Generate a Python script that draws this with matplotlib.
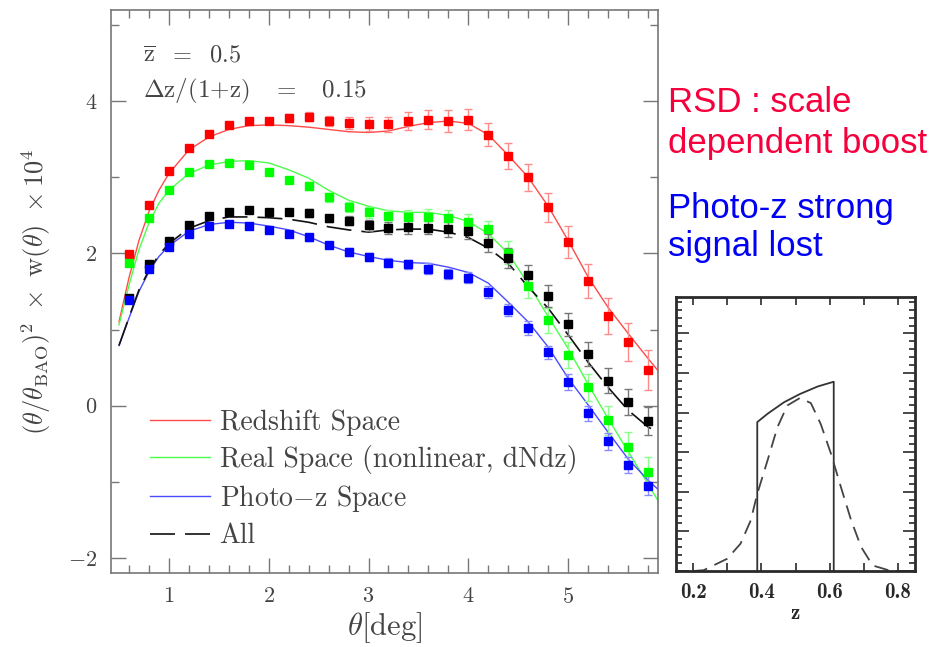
import matplotlib
matplotlib.use("Agg")
import matplotlib.pyplot as plt
from matplotlib.ticker import MultipleLocator, FixedLocator, FormatStrFormatter

plt.rcParams.update({
    "font.family": "serif",
    "font.serif": ["cmr10"],
    "mathtext.fontset": "cm",
    "axes.formatter.use_mathtext": True,
    "axes.unicode_minus": True,
})

# binned measurements, theta in degrees
theta = [0.6, 0.8, 1.0, 1.2, 1.4, 1.6, 1.8, 2.0, 2.2, 2.4, 2.6, 2.8, 3.0, 3.2,
         3.4, 3.6, 3.8, 4.0, 4.2, 4.4, 4.6, 4.8, 5.0, 5.2, 5.4, 5.6, 5.8]
red_pts = [1.99, 2.64, 3.08, 3.39, 3.57, 3.69, 3.74, 3.74, 3.78, 3.80, 3.74, 3.72, 3.70, 3.70,
           3.74, 3.76, 3.74, 3.76, 3.56, 3.28, 3.00, 2.61, 2.15, 1.64, 1.18, 0.84, 0.47]
red_err = [0.03, 0.03, 0.03, 0.03, 0.03, 0.04, 0.04, 0.04, 0.05, 0.06, 0.07, 0.08, 0.09, 0.10,
           0.12, 0.13, 0.14, 0.14, 0.15, 0.17, 0.18, 0.19, 0.21, 0.22, 0.24, 0.25, 0.26]
green_pts = [1.88, 2.46, 2.83, 3.07, 3.17, 3.19, 3.16, 3.07, 2.97, 2.89, 2.74, 2.61, 2.54, 2.49,
             2.48, 2.48, 2.47, 2.42, 2.32, 2.01, 1.57, 1.12, 0.67, 0.24, -0.19, -0.54, -0.87]
green_err = [0.03, 0.03, 0.03, 0.03, 0.03, 0.03, 0.04, 0.04, 0.04, 0.05, 0.06, 0.07, 0.07, 0.08,
             0.09, 0.10, 0.10, 0.10, 0.11, 0.15, 0.15, 0.16, 0.17, 0.18, 0.19, 0.19, 0.20]
black_pts = [1.41, 1.86, 2.17, 2.37, 2.49, 2.55, 2.57, 2.55, 2.54, 2.53, 2.46, 2.43, 2.37, 2.34,
             2.35, 2.34, 2.32, 2.30, 2.14, 1.94, 1.72, 1.44, 1.07, 0.68, 0.33, 0.05, -0.20]
black_err = [0.03, 0.03, 0.03, 0.03, 0.03, 0.03, 0.04, 0.04, 0.04, 0.05, 0.05, 0.06, 0.07, 0.08,
             0.09, 0.09, 0.10, 0.11, 0.12, 0.13, 0.13, 0.14, 0.15, 0.16, 0.17, 0.17, 0.18]
blue_pts = [1.39, 1.80, 2.09, 2.26, 2.36, 2.39, 2.36, 2.31, 2.25, 2.21, 2.11, 2.02, 1.95, 1.88,
            1.86, 1.80, 1.73, 1.68, 1.49, 1.26, 1.02, 0.70, 0.31, -0.10, -0.47, -0.78, -1.05]
blue_err = [0.02, 0.02, 0.02, 0.02, 0.03, 0.03, 0.03, 0.03, 0.03, 0.04, 0.04, 0.05, 0.05, 0.06,
            0.06, 0.07, 0.07, 0.07, 0.08, 0.08, 0.09, 0.09, 0.10, 0.10, 0.11, 0.11, 0.12]

# model curves
curve_theta = [0.5, 0.6, 0.7, 0.8, 0.9, 1.0, 1.2, 1.4, 1.6, 1.8, 2.0, 2.2, 2.4, 2.6, 2.8, 3.0,
               3.2, 3.4, 3.6, 3.8, 4.0, 4.2, 4.4, 4.6, 4.8, 5.0, 5.2, 5.4, 5.6, 5.8, 5.9]
red_model = [1.10, 1.68, 2.17, 2.55, 2.83, 3.05, 3.36, 3.53, 3.63, 3.68, 3.69, 3.68, 3.66, 3.63,
             3.60, 3.59, 3.61, 3.67, 3.72, 3.74, 3.71, 3.56, 3.29, 3.00, 2.62, 2.17, 1.69, 1.29,
             0.95, 0.62, 0.46]
green_model = [1.06, 1.58, 2.05, 2.40, 2.66, 2.83, 3.05, 3.16, 3.21, 3.22, 3.19, 3.10, 2.99, 2.83,
               2.70, 2.62, 2.56, 2.54, 2.54, 2.50, 2.42, 2.26, 2.00, 1.60, 1.17, 0.75, 0.28, -0.17,
               -0.60, -1.03, -1.25]
blue_model = [0.79, 1.15, 1.50, 1.76, 1.96, 2.10, 2.29, 2.38, 2.41, 2.40, 2.36, 2.31, 2.22, 2.11,
              2.02, 1.96, 1.91, 1.88, 1.87, 1.82, 1.75, 1.61, 1.36, 1.10, 0.77, 0.36, 0.01, -0.35,
              -0.70, -0.98, -1.10]
all_model = [0.79, 1.16, 1.52, 1.78, 1.98, 2.13, 2.33, 2.43, 2.48, 2.48, 2.47, 2.45, 2.41, 2.35,
             2.31, 2.28, 2.31, 2.32, 2.32, 2.28, 2.21, 2.07, 1.87, 1.56, 1.28, 0.93, 0.57, 0.24,
             -0.06, -0.28, -0.35]

# redshift distribution (inset)
tophat_z = [0.388, 0.388, 0.418, 0.466, 0.513, 0.565, 0.612, 0.612]
tophat_n = [0.0, 3.76, 3.97, 4.26, 4.47, 4.66, 4.78, 0.0]
photoz_z = [0.20, 0.231, 0.300, 0.339, 0.369, 0.388, 0.418, 0.447, 0.476, 0.513, 0.545, 0.574,
            0.604, 0.633, 0.663, 0.692, 0.726, 0.780, 0.82]
photoz_n = [0.0, 0.02, 0.31, 0.69, 1.28, 1.95, 2.79, 3.63, 4.18, 4.37, 4.24, 3.71,
            2.96, 2.12, 1.28, 0.61, 0.14, 0.0, 0.0]

TXT = "#444444"
SPINE = "#777777"
INK = "#2a2a2a"

fig = plt.figure(figsize=(9.46, 6.47), dpi=100)
ax = fig.add_axes([111 / 946, 1 - 573 / 647, 547 / 946, 563 / 647])

ax.plot(curve_theta, red_model, color="#ff4a4a", lw=1.0, label="Redshift Space", zorder=2)
ax.plot(curve_theta, green_model, color="#4aff4a", lw=1.0,
        label="Real Space (nonlinear, dNdz)", zorder=2)
ax.plot(curve_theta, blue_model, color="#4a4aff", lw=1.0, label=r"Photo$-$z Space", zorder=2)
ax.plot(curve_theta, all_model, color="#111111", lw=1.2, dashes=(15, 6), label="All", zorder=2)

for pts, err, col, ecol in (
    (red_pts, red_err, "#ff0000", "#ff8a8a"),
    (green_pts, green_err, "#00ff00", "#8aff8a"),
    (black_pts, black_err, "#000000", "#777777"),
    (blue_pts, blue_err, "#0000ff", "#8a8aff"),
):
    ax.errorbar(theta, pts, yerr=err, fmt="s", ms=5.5, mfc=col, mec=col, ecolor=ecol,
                elinewidth=1.0, capsize=3.2, capthick=1.0, zorder=3)

ax.set_xlim(0.42, 5.9)
ax.set_ylim(-2.2, 5.2)
ax.xaxis.set_major_locator(MultipleLocator(1))
ax.xaxis.set_minor_locator(MultipleLocator(0.2))
ax.yaxis.set_major_locator(MultipleLocator(2))
ax.yaxis.set_minor_locator(MultipleLocator(1))
ax.tick_params(which="both", direction="in", top=True, right=True, color=SPINE,
               labelcolor=TXT, labelsize=16, width=1.0)
ax.tick_params(which="major", length=11, pad=10)
ax.tick_params(which="minor", length=6)
for s in ax.spines.values():
    s.set_color(SPINE)
    s.set_linewidth(1.2)

ax.set_xlabel(r"$\theta[{\rm deg}]$", fontsize=22, color=TXT, labelpad=2)
ax.set_ylabel(r"$(\theta/\theta_{\rm BAO})^2\ \times\ {\rm w}(\theta)\ \times 10^4$",
              fontsize=19, color=TXT, labelpad=11)

ax.text(0.058, 0.906, r"$\overline{\rm z}\ \ =\ \ 0.5$", transform=ax.transAxes,
        fontsize=17.5, color=TXT, va="baseline")
ax.text(0.058, 0.845, r"$\Delta{\rm z}/(1{+}{\rm z})\ \ \ =\ \ \ 0.15$", transform=ax.transAxes,
        fontsize=18, color=TXT, va="baseline")

ax.legend(loc="lower left", bbox_to_anchor=(0.071, 0.042), frameon=False, fontsize=20,
          handlelength=2.15, handletextpad=0.36, labelspacing=0.33, labelcolor=TXT,
          borderpad=0, borderaxespad=0)

# redshift distribution inset
ax2 = fig.add_axes([676 / 946, 1 - 571 / 647, 239 / 946, 274 / 647])
ax2.plot(tophat_z, tophat_n, color="#333333", lw=1.3)
ax2.plot(photoz_z, photoz_n, color="#444444", lw=1.3, dashes=(8, 4.5))
ax2.set_xlim(0.15, 0.85)
ax2.set_ylim(0, 6.92)
ax2.xaxis.set_major_locator(FixedLocator([0.2, 0.4, 0.6, 0.8]))
ax2.xaxis.set_minor_locator(FixedLocator([0.3, 0.5, 0.7]))
ax2.xaxis.set_major_formatter(FormatStrFormatter("%.1f"))
ax2.yaxis.set_major_locator(MultipleLocator(1))
ax2.yaxis.set_minor_locator(MultipleLocator(0.2))
ax2.set_yticklabels([])
ax2.tick_params(which="both", direction="in", top=True, right=True, color=INK,
                labelcolor=INK, width=1.2)
ax2.tick_params(axis="x", which="both", length=6, pad=9)
ax2.tick_params(axis="y", which="major", length=9)
ax2.tick_params(axis="y", which="minor", length=4.5)
for lab in ax2.get_xticklabels():
    lab.set_fontfamily("cmb10")
    lab.set_fontsize(15)
for s in ax2.spines.values():
    s.set_color(INK)
    s.set_linewidth(2.0)
ax2.set_xlabel("z", fontsize=15, fontfamily="cmb10", color=INK, labelpad=1)

# notes beside the plot
note_font = dict(family="Liberation Sans", fontsize=25, va="baseline")
fig.text(668 / 946, 1 - 112 / 647, "RSD : scale", color="#f5003d", **note_font)
fig.text(668 / 946, 1 - 153 / 647, "dependent boost", color="#f5003d", **note_font)
fig.text(668 / 946, 1 - 218 / 647, "Photo-z strong", color="#0000f5", **note_font)
fig.text(668 / 946, 1 - 256 / 647, "signal lost", color="#0000f5", **note_font)

fig.savefig("out.png", dpi=100)
